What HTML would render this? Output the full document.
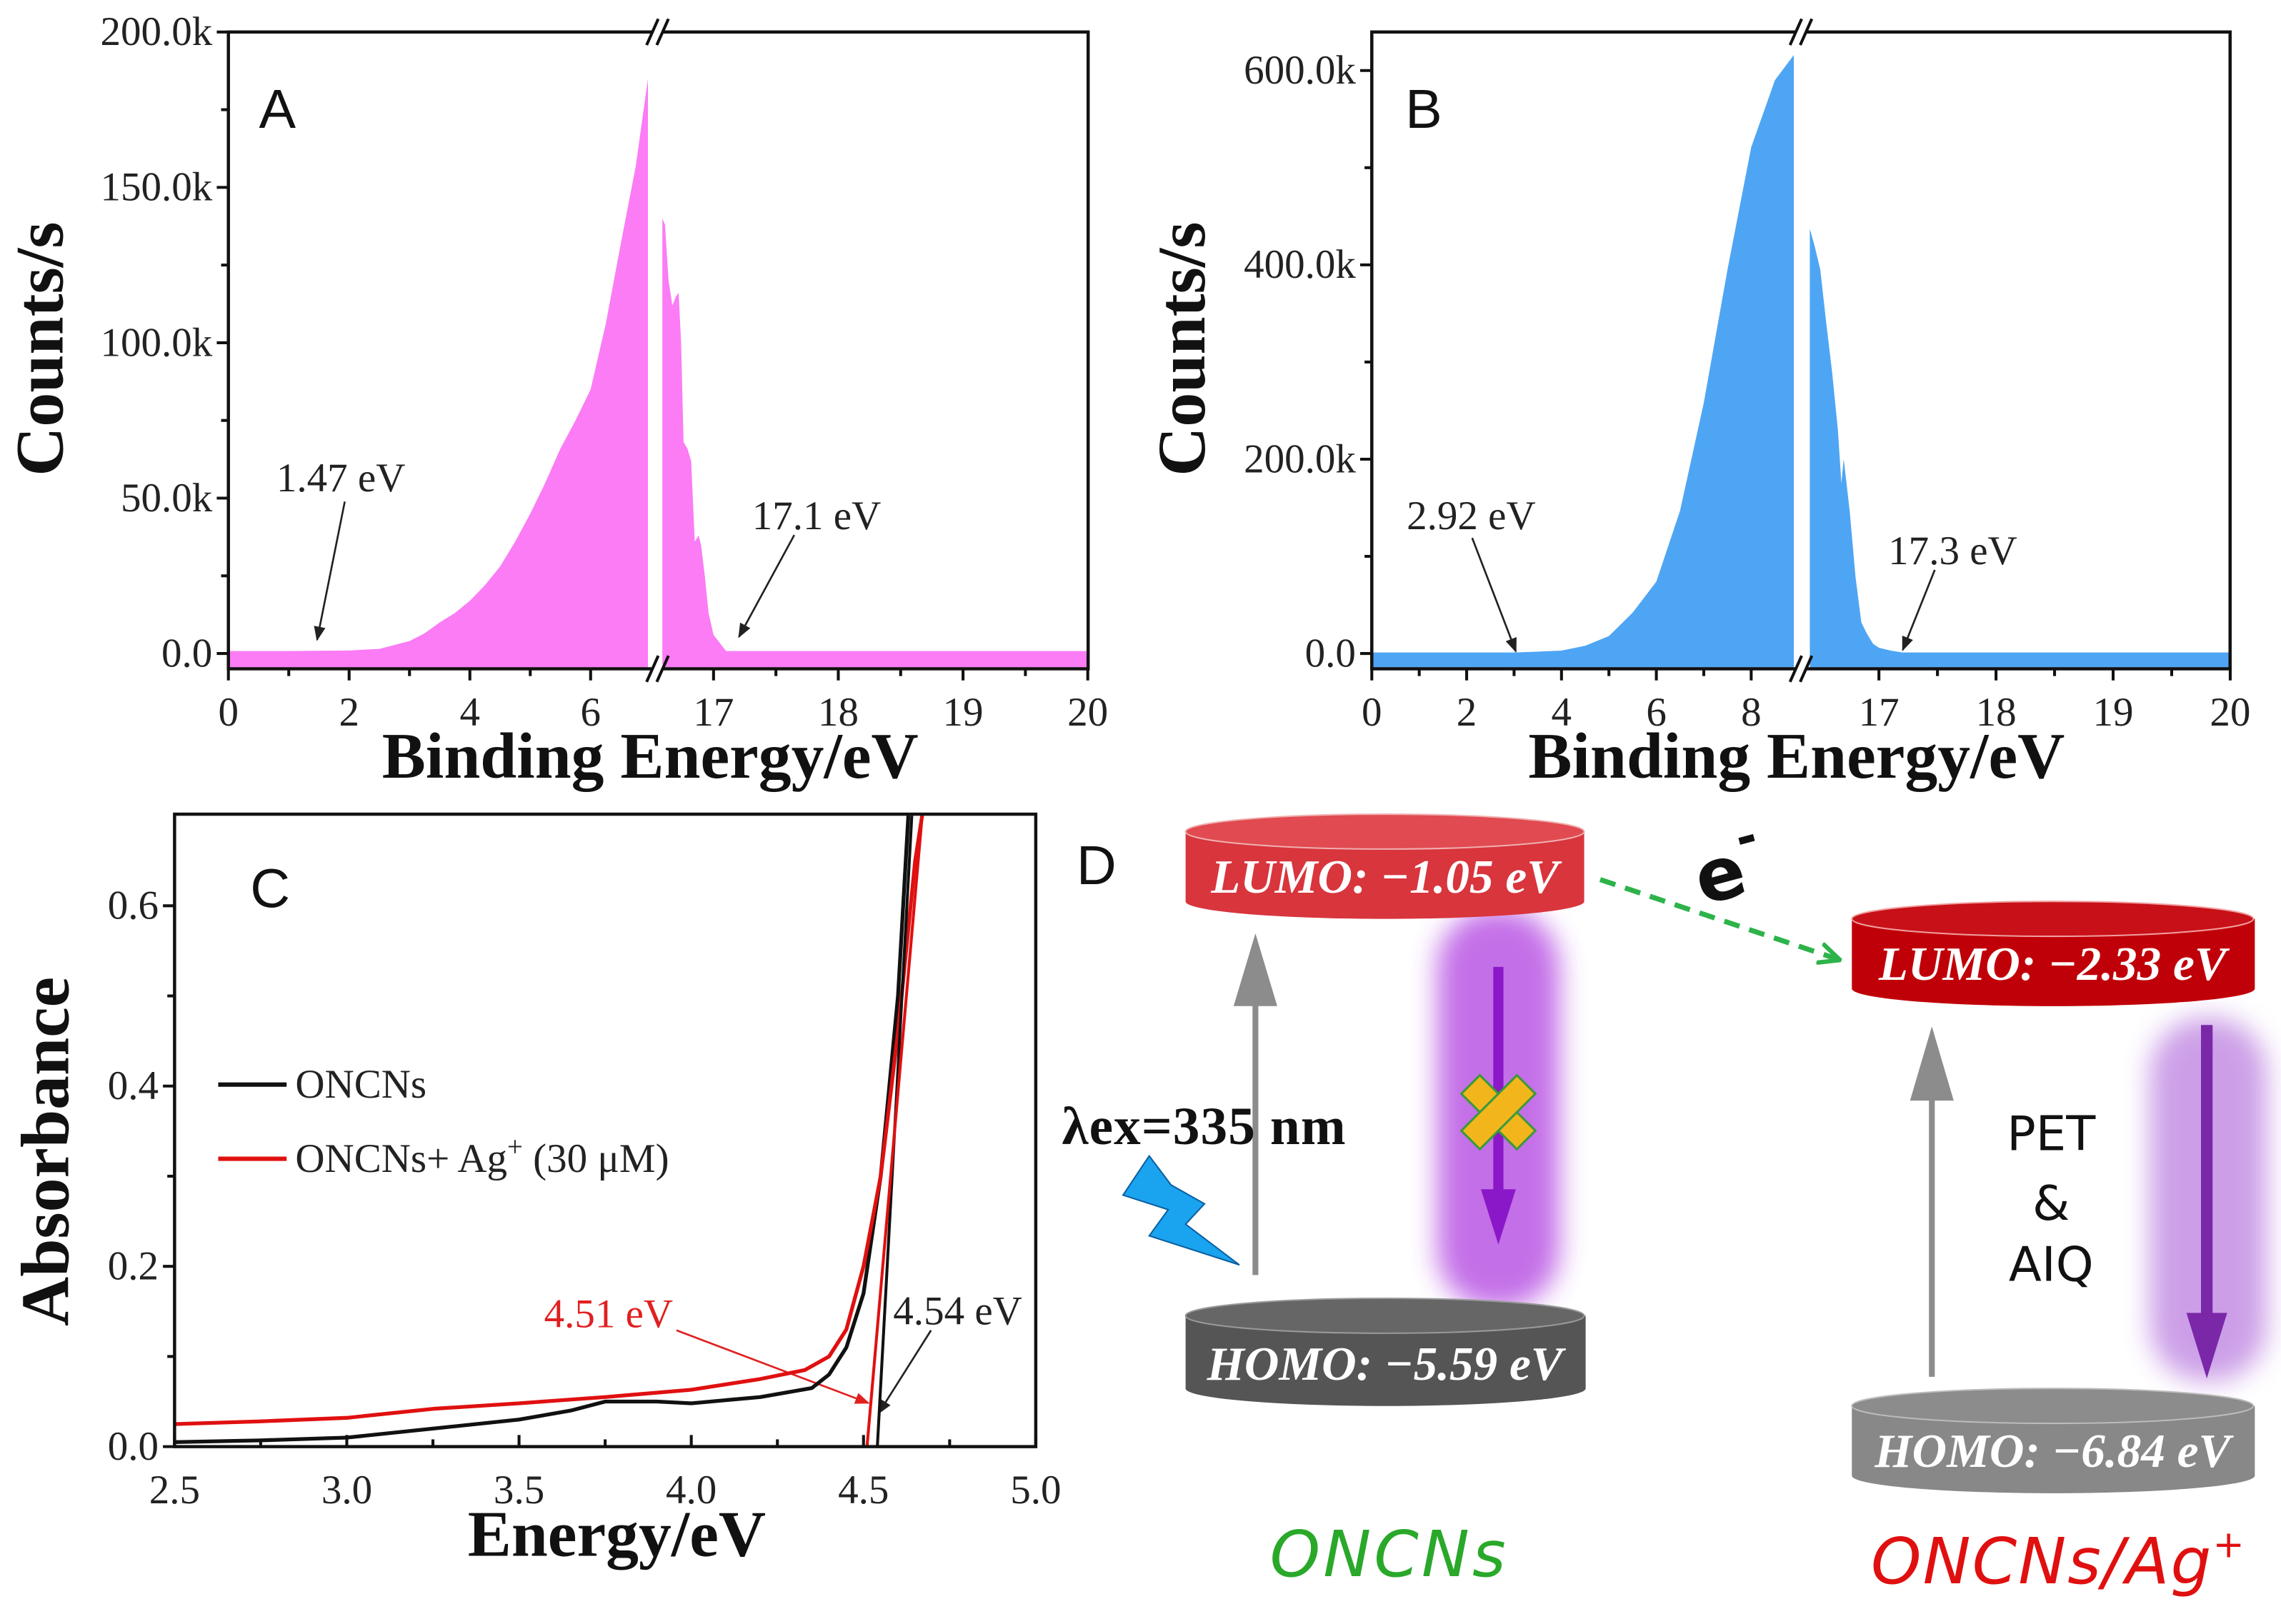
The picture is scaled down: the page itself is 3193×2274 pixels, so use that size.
<!DOCTYPE html>
<html><head><meta charset="utf-8"><style>
html,body{margin:0;padding:0;background:#fff;}
svg{display:block;}
.tk{font-family:"Liberation Serif",serif;font-size:28px;fill:#222;}
.ti{font-family:"Liberation Serif",serif;font-size:45px;font-weight:bold;fill:#111;}
.tiy{font-family:"Liberation Serif",serif;font-size:47px;font-weight:bold;fill:#111;}
.pl{font-family:"Liberation Sans",sans-serif;font-size:38px;fill:#111;}
.an{font-family:"Liberation Serif",serif;font-size:28px;fill:#222;}
.lv{font-family:"Liberation Serif",serif;font-size:33px;font-weight:bold;font-style:italic;fill:#fff;}
</style></head><body>
<svg id="fig" width="3193" height="2274" viewBox="0 0 1568 1117" preserveAspectRatio="none" xmlns="http://www.w3.org/2000/svg">
<defs>
<filter id="blur" x="-50%" y="-50%" width="200%" height="200%"><feGaussianBlur stdDeviation="9"/></filter>
<marker id="ah" markerWidth="10" markerHeight="10" refX="9" refY="5" orient="auto" markerUnits="userSpaceOnUse"><path d="M0,1 L10,5 L0,9 z" fill="#222"/></marker>
<marker id="ahr" markerWidth="10" markerHeight="10" refX="9" refY="5" orient="auto" markerUnits="userSpaceOnUse"><path d="M0,1 L10,5 L0,9 z" fill="#e02020"/></marker>
<marker id="ahg" markerWidth="16" markerHeight="16" refX="14" refY="8" orient="auto" markerUnits="userSpaceOnUse"><path d="M0,1 L15,8 L0,15" fill="none" stroke="#2db34a" stroke-width="3"/></marker>
</defs>

<g>
<text class="pl" x="178" y="88">A</text>
<text class="tiy" transform="translate(43,240) rotate(-90)" text-anchor="middle">Counts/s</text>
<text class="ti" x="447" y="535" text-anchor="middle">Binding Energy/eV</text>
<text class="an" x="190" y="338">1.47 eV</text>
<line x1="237" y1="345" x2="218" y2="440" stroke="#222" stroke-width="1.3" marker-end="url(#ah)"/>
<text class="an" x="517" y="364">17.1 eV</text>
<line x1="546" y1="368" x2="508" y2="438" stroke="#222" stroke-width="1.3" marker-end="url(#ah)"/>
</g>
<g>
<text class="pl" x="966" y="88">B</text>
<text class="tiy" transform="translate(828,240) rotate(-90)" text-anchor="middle">Counts/s</text>
<text class="ti" x="1235" y="535" text-anchor="middle">Binding Energy/eV</text>
<text class="an" x="967" y="364">2.92 eV</text>
<line x1="1012" y1="370" x2="1042" y2="448" stroke="#222" stroke-width="1.3" marker-end="url(#ah)"/>
<text class="an" x="1298" y="388">17.3 eV</text>
<line x1="1330" y1="392" x2="1308" y2="447" stroke="#222" stroke-width="1.3" marker-end="url(#ah)"/>
</g>
<g>
<text class="pl" x="172" y="624">C</text>
<text class="tiy" transform="translate(47,792) rotate(-90)" text-anchor="middle">Absorbance</text>
<text class="ti" x="424" y="1070" text-anchor="middle">Energy/eV</text>
<line x1="150" y1="746" x2="197" y2="746" stroke="#111" stroke-width="3"/>
<text class="an" x="203" y="755">ONCNs</text>
<line x1="150" y1="797" x2="197" y2="797" stroke="#e01010" stroke-width="3"/>
<text class="an" x="203" y="806">ONCNs+ Ag<tspan dy="-11" font-size="19">+</tspan><tspan dy="11"> (30 μM)</tspan></text>
<text class="an" x="374" y="913" style="fill:#e02020">4.51 eV</text>
<line x1="465" y1="915" x2="597" y2="965" stroke="#e02020" stroke-width="1.3" marker-end="url(#ahr)"/>
<text class="an" x="614" y="911">4.54 eV</text>
<line x1="640" y1="915" x2="604" y2="972" stroke="#222" stroke-width="1.3" marker-end="url(#ah)"/>
</g>

<g>
<text class="pl" x="740" y="608">D</text>
<rect x="988" y="625" width="84" height="275" rx="40" fill="#b040e0" opacity="0.75" filter="url(#blur)"/>
<rect x="1478" y="700" width="80" height="250" rx="38" fill="#9a40d0" opacity="0.5" filter="url(#blur)"/>
<line x1="1030" y1="665" x2="1030" y2="820" stroke="#8a18c8" stroke-width="7"/>
<path d="M1018,818 L1042,818 L1030,856 z" fill="#8a18c8"/>
<line x1="1517" y1="705" x2="1517" y2="905" stroke="#7a28a8" stroke-width="8"/>
<path d="M1503,903 L1531,903 L1517,948 z" fill="#7a28a8"/>
<line x1="863" y1="877" x2="863" y2="690" stroke="#8c8c8c" stroke-width="4"/>
<path d="M848,692 L878,692 L863,642 z" fill="#8c8c8c"/>
<line x1="1328" y1="947" x2="1328" y2="755" stroke="#8c8c8c" stroke-width="4"/>
<path d="M1313,757 L1343,757 L1328,706 z" fill="#8c8c8c"/>
<g transform="translate(1030,765) rotate(45)">
<rect x="-27" y="-9" width="54" height="18" fill="#f2b61c" stroke="#3a9a3a" stroke-width="1.5"/>
<rect x="-9" y="-27" width="18" height="54" fill="#f2b61c" stroke="#3a9a3a" stroke-width="1.5"/>
<rect x="-8" y="-8" width="16" height="16" fill="#f2b61c"/>
</g>
<g>
<path d="M815,572 L815,620 A137,12 0 0 0 1089,620 L1089,572 z" fill="#d8353d"/>
<ellipse cx="952" cy="572" rx="137" ry="12" fill="#e04a50" stroke="#f0b0b0" stroke-width="1"/>
<text class="lv" x="952" y="614" text-anchor="middle">LUMO: −1.05 eV</text>
</g>
<g>
<path d="M815,905 L815,955 A137,12 0 0 0 1090,955 L1090,905 z" fill="#555"/>
<ellipse cx="952" cy="905" rx="137" ry="12" fill="#666" stroke="#999" stroke-width="1"/>
<text class="lv" x="952" y="949" text-anchor="middle">HOMO: −5.59 eV</text>
</g>
<g>
<path d="M1273,632 L1273,680 A138,12 0 0 0 1550,680 L1550,632 z" fill="#c00008"/>
<ellipse cx="1411" cy="632" rx="138" ry="12" fill="#c81018" stroke="#f0a0a0" stroke-width="1"/>
<text class="lv" x="1411" y="674" text-anchor="middle">LUMO: −2.33 eV</text>
</g>
<g>
<path d="M1273,967 L1273,1015 A138,12 0 0 0 1550,1015 L1550,967 z" fill="#888"/>
<ellipse cx="1411" cy="967" rx="138" ry="12" fill="#8c8c8c" stroke="#bbb" stroke-width="1"/>
<text class="lv" x="1411" y="1009" text-anchor="middle">HOMO: −6.84 eV</text>
</g>
<line x1="1100" y1="605" x2="1264" y2="660" stroke="#2db34a" stroke-width="3.5" stroke-dasharray="11,7" marker-end="url(#ahg)"/>
<text x="1165" y="618" font-family="DejaVu Sans,sans-serif" font-size="50" font-weight="bold" fill="#111" transform="rotate(-15,1185,600)">e<tspan dy="-26" font-size="34">-</tspan></text>
<text x="730" y="787" font-family="Liberation Serif,serif" font-size="37" font-weight="bold" fill="#111" textLength="195">λex=335 nm</text>
<path d="M790,795 L772,822 L803,832 L790,850 L852,870 L815,842 L828,828 L805,815 z" fill="#1aa3ef" stroke="#0b5fa0" stroke-width="1"/>
<g font-family="DejaVu Sans,sans-serif" font-size="33" fill="#111" text-anchor="middle">
<text x="1410" y="791">PET</text><text x="1410" y="839">&amp;</text><text x="1410" y="881">AIQ</text>
</g>
<text x="955" y="1084" text-anchor="middle" font-family="DejaVu Sans,sans-serif" font-style="italic" font-size="44" fill="#2aa82a" letter-spacing="2">ONCNs</text>
<text x="1415" y="1089" text-anchor="middle" font-family="DejaVu Sans,sans-serif" font-style="italic" font-size="44" fill="#e01010" letter-spacing="1">ONCNs/Ag<tspan dy="-18" font-size="26">+</tspan></text>
</g>
<g id="dyn"></g>
</svg>
<script>
const aLeftX=[0,1,2,2.5,3,3.25,3.5,3.75,4,4.25,4.5,4.75,5,5.25,5.5,5.75,6,6.25,6.5,6.75,6.95];
const aLeftY=[0.8,0.8,1,1.5,4,6.5,10,13,17,22,28,36,45,55,66,75,85,106,132,157,185];
const aRightX=[16.59,16.61,16.64,16.67,16.70,16.72,16.74,16.76,16.79,16.82,16.85,16.88,16.9,16.93,16.96,17.0,17.1,17.5,18,19,20];
const aRightY=[140,138,120,112,115,116,100,68,66,62,36,38,35,25,13,6,0.8,0.8,0.8,0.8,0.8];
const aYTicks=[0,50,100,150,200];
const aYLabels=["0.0","50.0k","100.0k","150.0k","200.0k"];
const aXTicks=[0,2,4,6,17,18,19,20];
const bLeftX=[0,1,2,3,3.5,4,4.5,5,5.5,6,6.5,7,7.5,8,8.5,8.9];
const bLeftY=[1,1,1,1,2,3,8,18,42,74,147,258,395,521,590,616];
const bRightX=[16.41,16.45,16.5,16.55,16.6,16.65,16.68,16.7,16.75,16.8,16.85,16.9,16.95,17.0,17.1,17.2,18,20];
const bRightY=[437,420,395,340,290,230,175,200,147,79,32,20,10,6,3,1,1,1];
const bYTicks=[0,200,400,600];
const bYLabels=["0.0","200.0k","400.0k","600.0k"];
const bXTicks=[0,2,4,6,8,17,18,19,20];
const cBlackX=[2.5,2.75,3.0,3.25,3.5,3.65,3.75,3.9,4.0,4.2,4.35,4.4,4.45,4.5,4.55,4.6,4.63];
const cBlackY=[0.005,0.007,0.01,0.02,0.03,0.04,0.05,0.05,0.048,0.055,0.065,0.08,0.11,0.17,0.3,0.5,0.7];
const cRedX=[2.5,2.75,3.0,3.25,3.5,3.75,4.0,4.2,4.33,4.4,4.45,4.5,4.55,4.6,4.65,4.67];
const cRedY=[0.025,0.028,0.032,0.042,0.048,0.055,0.063,0.075,0.085,0.1,0.13,0.2,0.3,0.46,0.65,0.7];
const cBlackFitX=[4.54,4.64];
const cBlackFitY=[0,0.7];
const cRedFitX=[4.51,4.67];
const cRedFitY=[0,0.7];
const cXTicks=[2.5,3.0,3.5,4.0,4.5,5.0];
const cYTicks=[0,0.2,0.4,0.6];

const NS="http://www.w3.org/2000/svg";
const root=document.getElementById('dyn');
function el(tag,attrs,parent){const e=document.createElementNS(NS,tag);for(const k in attrs)e.setAttribute(k,attrs[k]);(parent||root).appendChild(e);return e;}

const xA=v=>v<=7?157+v*41.5:490.5+(v-17)*85.75;
const yA=v=>449.5-v*(427.5/200);
const xB=v=>v<=9?943+v*32.6:1291.6+(v-17)*80.5;
const yB=v=>449.5-v*(401/600);
const xC=v=>120+(v-2.5)*(592/2.5);
const yC=v=>995-v*(372/0.6);

function area(xs,ys,fx,fy,base,color,name){
  let d='M'+fx(xs[0]).toFixed(1)+','+base;
  for(let i=0;i<xs.length;i++)d+=' L'+fx(xs[i]).toFixed(1)+','+fy(ys[i]).toFixed(1);
  d+=' L'+fx(xs[xs.length-1]).toFixed(1)+','+base+' Z';
  const p=el('path',{d:d,fill:color});
  
  
}
function frame(l,t,r,b,name){
  const f=el('rect',{x:l,y:t,width:r-l,height:b-t,fill:'none',stroke:'#111','stroke-width':2.2});
  
  
}
function brk(x,t,b,name){
  for(const yy of [t,b]){
    const w=el('rect',{x:x-4,y:yy-3,width:8,height:6,fill:'#fff'});
    
    
    for(const dx of [-3.5,3.5]){
      const l=el('line',{x1:x+dx-4,y1:yy+9,x2:x+dx+4,y2:yy-9,stroke:'#111','stroke-width':2});
      
      
    }
  }
}
function ytick(x,y,len,lab,name){
  const t=el('line',{x1:x,y1:y,x2:x-len,y2:y,stroke:'#111','stroke-width':2});
  
  
  if(lab!==null){
    const tx=el('text',{x:x-11,y:y+9,'text-anchor':'end',class:'tk'});
    tx.textContent=lab;
    
    
  }
}
function xtick(x,y,len,lab,name){
  const t=el('line',{x1:x,y1:y,x2:x,y2:y+len,stroke:'#111','stroke-width':2});
  
  
  if(lab!==null){
    const tx=el('text',{x:x,y:y+39,'text-anchor':'middle',class:'tk'});
    tx.textContent=lab;
    
    
  }
}

area(aLeftX,aLeftY,xA,yA,459,'#fb7cf5','a-area-left');
area(aRightX,aRightY,xA,yA,459,'#fb7cf5','a-area-right');
frame(157,22,748,460,'a-plot-frame');
brk(452,22,460,'a-axis-break');
aYTicks.forEach((v,i)=>ytick(157,yA(v),8,aYLabels[i],'a-y-tick'));
for(let v=25;v<200;v+=50)ytick(157,yA(v),5,null,'a-y-minor-tick');
aXTicks.forEach(v=>xtick(xA(v),460,8,String(v),'a-x-tick'));
[1,3,5,17.5,18.5,19.5].forEach(v=>xtick(xA(v),460,5,null,'a-x-minor-tick'));

area(bLeftX,bLeftY,xB,yB,459,'#4ea5f4','b-area-left');
area(bRightX,bRightY,xB,yB,459,'#4ea5f4','b-area-right');
frame(943,22,1533,460,'b-plot-frame');
brk(1238,22,460,'b-axis-break');
bYTicks.forEach((v,i)=>ytick(943,yB(v),8,bYLabels[i],'b-y-tick'));
for(let v=100;v<600;v+=200)ytick(943,yB(v),5,null,'b-y-minor-tick');
bXTicks.forEach(v=>xtick(xB(v),460,8,String(v),'b-x-tick'));
[1,3,5,7,17.5,18.5,19.5].forEach(v=>xtick(xB(v),460,5,null,'b-x-minor-tick'));

const clip=el('clipPath',{id:'cclip'});
el('rect',{x:120,y:560,width:592,height:435},clip);
const gC=el('g',{'clip-path':'url(#cclip)'});


function lineC(xs,ys,color,w,name){
  let d='';
  for(let i=0;i<xs.length;i++)d+=(i?' L':'M')+xC(xs[i]).toFixed(1)+','+yC(ys[i]).toFixed(1);
  const p=el('path',{d:d,fill:'none',stroke:color,'stroke-width':w,'stroke-linejoin':'round'},gC);
  
  
}
lineC(cBlackX,cBlackY,'#111',2.6,'c-line-oncns');
lineC(cRedX,cRedY,'#e01010',2.6,'c-line-oncns-ag');
lineC(cBlackFitX,cBlackFitY,'#111',2,'c-fit-oncns');
lineC(cRedFitX,cRedFitY,'#e01010',2,'c-fit-oncns-ag');
frame(120,560,712,995,'c-plot-frame');
cYTicks.forEach(v=>ytick(120,yC(v),8,v.toFixed(1),'c-y-tick'));
[0.1,0.3,0.5].forEach(v=>ytick(120,yC(v),5,null,'c-y-minor-tick'));
cXTicks.forEach(v=>xtick(xC(v),995,-8,v.toFixed(1),'c-x-tick'));
[2.75,3.25,3.75,4.25,4.75].forEach(v=>xtick(xC(v),995,-5,null,'c-x-minor-tick'));
</script>
</body></html>
